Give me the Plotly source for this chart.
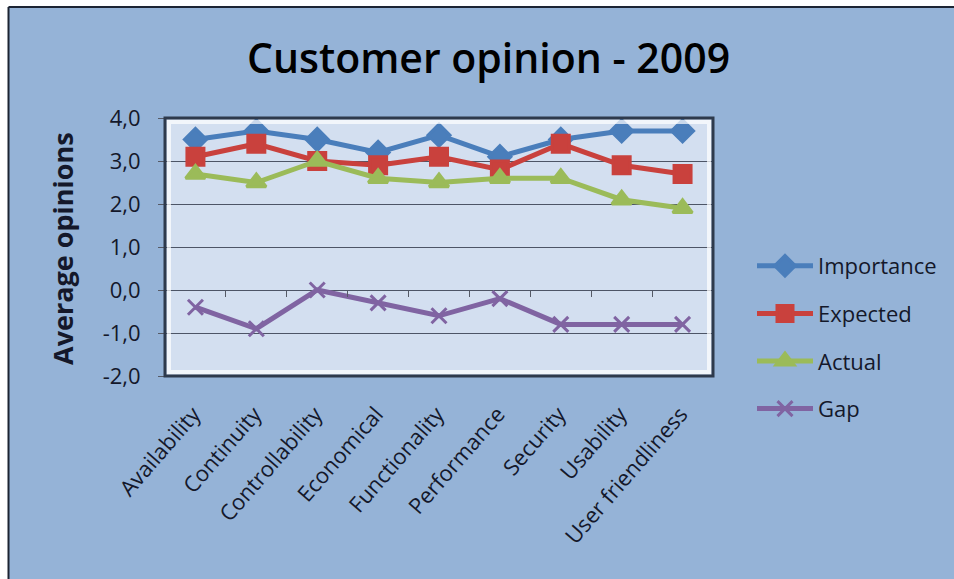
import plotly.graph_objects as go

# Survey results per quality aspect
categories = ["Availability", "Continuity", "Controllability", "Economical",
              "Functionality", "Performance", "Security", "Usability",
              "User friendliness"]
importance = [3.5, 3.7, 3.5, 3.2, 3.6, 3.1, 3.5, 3.7, 3.7]
expected = [3.1, 3.4, 3.0, 2.9, 3.1, 2.8, 3.4, 2.9, 2.7]
actual = [2.7, 2.5, 3.0, 2.6, 2.5, 2.6, 2.6, 2.1, 1.9]
gap = [-0.4, -0.9, 0.0, -0.3, -0.6, -0.2, -0.8, -0.8, -0.8]

y_ticks = [-2, -1, 0, 1, 2, 3, 4]
y_tick_labels = ["-2,0", "-1,0", "0,0", "1,0", "2,0", "3,0", "4,0"]

W, H = 954, 579
FONT = "'Open Sans', Lato, sans-serif"
TEXT = "#14182a"

series = [
    ("Importance", importance, "#4a7ebb", "diamond", 17),
    ("Expected", expected, "#c9413d", "square", 17),
    ("Actual", actual, "#9bbb59", "triangle-up", 17),
    ("Gap", gap, "#8064a2", "x-thin", 15),
]

fig = go.Figure()
for i, (name, vals, color, symbol, size) in enumerate(series):
    fig.add_trace(go.Scatter(
        x=categories, y=vals, name=name, mode="lines+markers",
        legendgroup=f"g{i}",
        line=dict(color=color, width=5),
        marker=dict(symbol=symbol, size=size, color=color,
                    line=dict(color=color, width=3)),
    ))

# plot area in pixel terms
px0, px1 = 165, 713
py_top, py_bot = 118, 376
xd = [px0 / W, px1 / W]
yd = [(H - py_bot) / H, (H - py_top) / H]
ymin, ymax = -2, 4
zero_pos = yd[0] + (0 - ymin) / (ymax - ymin) * (yd[1] - yd[0])

fig.update_layout(
    width=W, height=H,
    margin=dict(l=0, r=0, t=0, b=0, autoexpand=False),
    paper_bgcolor="#95b3d7",
    plot_bgcolor="#d3dff0",
    font=dict(family=FONT, color=TEXT),
    showlegend=True,
    legend=dict(
        x=752 / W, y=(H - 245) / H, xanchor="left", yanchor="top",
        bgcolor="rgba(0,0,0,0)", font=dict(size=22, color=TEXT),
        tracegroupgap=16, itemwidth=56,
    ),
    xaxis=dict(
        domain=xd, type="category", tickangle=-49, automargin=False,
        tickfont=dict(size=22, color=TEXT),
        ticklabelstandoff=20, ticklabelshift=-2,
        showgrid=False, showline=False, ticks="", zeroline=False,
        range=[-0.5, len(categories) - 0.5],
    ),
    xaxis2=dict(
        overlaying="x", matches="x", anchor="free", position=zero_pos,
        type="category", tickson="boundaries", ticks="outside", ticklen=6,
        tickcolor="#555a66", showticklabels=False, showgrid=False,
        showline=False, zeroline=False, automargin=False,
    ),
    yaxis=dict(
        domain=yd, range=[ymin, ymax], tickvals=y_ticks, ticktext=y_tick_labels,
        tickfont=dict(size=22, color=TEXT), ticks="outside", ticklen=6,
        ticklabelstandoff=13,
        tickcolor="#555a66", gridcolor="#4d5566", gridwidth=1,
        zeroline=False, showline=False, automargin=False,
    ),
    annotations=[
        dict(text="Customer opinion - 2009", x=488 / W, y=(H - 57) / H,
             xref="paper", yref="paper", showarrow=False,
             xanchor="center", yanchor="middle",
             font=dict(size=41, color="#000000", family=FONT, weight=600)),
        dict(text="<b>Average opinions</b>", x=63 / W, y=(H - 249) / H,
             xref="paper", yref="paper", showarrow=False, textangle=-90,
             xanchor="center", yanchor="middle",
             font=dict(size=27, color=TEXT, family=FONT)),
    ],
    shapes=[
        # white surround outside the chart frame
        dict(type="rect", xref="paper", yref="paper", x0=0, x1=8 / W, y0=0, y1=1,
             fillcolor="white", line=dict(width=0)),
        dict(type="rect", xref="paper", yref="paper", x0=0, x1=1, y0=(H - 7) / H, y1=1,
             fillcolor="white", line=dict(width=0)),
        # outer chart border on the left and top
        dict(type="line", xref="paper", yref="paper", x0=8.5 / W, x1=8.5 / W,
             y0=0, y1=(H - 7) / H, line=dict(color="#1c2433", width=2)),
        dict(type="line", xref="paper", yref="paper", x0=8.5 / W, x1=1,
             y0=(H - 7) / H, y1=(H - 7) / H, line=dict(color="#1c2433", width=2)),
        # bevelled frame around the plot area
        dict(type="rect", xref="paper", yref="paper",
             x0=xd[0] + 4 / W, x1=xd[1] - 4 / W, y0=yd[0] + 4 / H, y1=yd[1] - 4 / H,
             line=dict(color="rgba(255,255,255,0.7)", width=4)),
        dict(type="rect", xref="paper", yref="paper",
             x0=xd[0], x1=xd[1], y0=yd[0], y1=yd[1],
             line=dict(color="#2e3a4c", width=3)),
    ],
)

# a hidden trace so the zero-line tick axis is drawn
fig.add_trace(go.Scatter(x=categories, y=[None] * len(categories), xaxis="x2",
                         showlegend=False, hoverinfo="skip"))

fig.write_html("out.html")
